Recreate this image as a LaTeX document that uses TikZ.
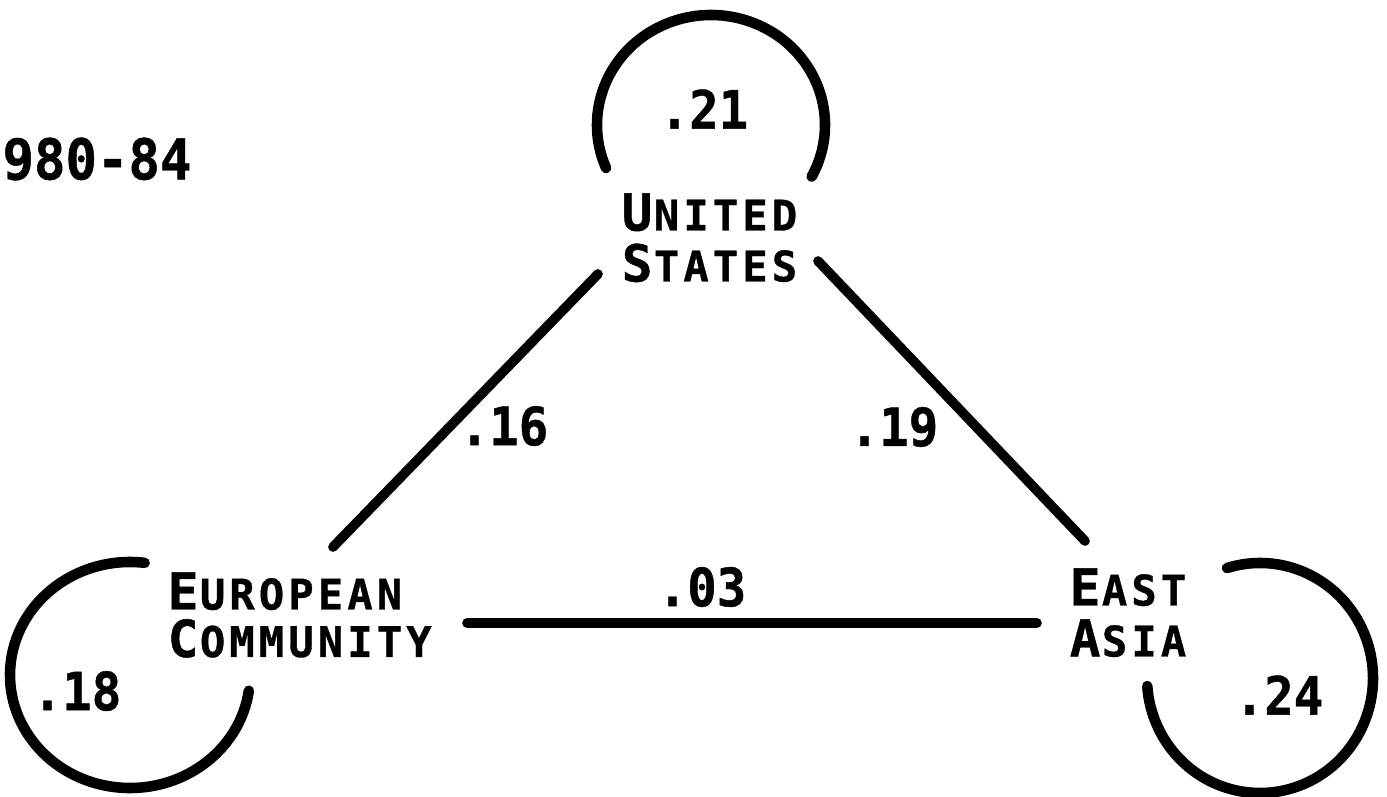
\documentclass[tikz,border=0pt]{standalone}
\usepackage{fontspec}
\newfontfamily\lgb{DejaVu Sans Mono}[FakeStretch=0.93,BoldFeatures={FakeBold=0.8}]
\newfontfamily\lgl{DejaVu Sans Mono}[BoldFeatures={FakeBold=0.8}]
\newcommand\capL[1]{\makebox[0.59cm][c]{\fontsize{29}{31}\selectfont #1}}
\newcommand\smL[1]{\makebox[0.59cm][c]{\fontsize{24}{31}\selectfont #1}}
\begin{document}
\begin{tikzpicture}[x=0.02cm,y=-0.02cm,
  lbl/.style={inner sep=0pt,anchor=north west,align=left,font=\lgl\bfseries\fontsize{29}{31}\selectfont},
  num/.style={inner sep=0pt,anchor=center,font=\lgb\bfseries\fontsize{30}{32}\selectfont},
  link/.style={line width=5.5pt,line cap=round},
  loopline/.style={line width=6pt,line cap=round}]
\useasboundingbox[fill=white] (0,0) rectangle (1387,797);

% labels
\node[lbl] (us) at (622,193) {\capL{U}\smL{N}\smL{I}\smL{T}\smL{E}\smL{D}\\[-2pt]\capL{S}\smL{T}\smL{A}\smL{T}\smL{E}\smL{S}};
\node[lbl,font=\lgl\bfseries\fontsize{29}{29}\selectfont] (ec) at (168,572) {\capL{E}\smL{U}\smL{R}\smL{O}\smL{P}\smL{E}\smL{A}\smL{N}\\[-2pt]\capL{C}\smL{O}\smL{M}\smL{M}\smL{U}\smL{N}\smL{I}\smL{T}\smL{Y}};
\node[lbl] (ea) at (1070,568) {\capL{E}\smL{A}\smL{S}\smL{T}\\[-2pt]\capL{A}\smL{S}\smL{I}\smL{A}};

\node[num,font=\lgb\bfseries\fontsize{32}{34}\selectfont] (yr) at (97,159) {980-84};

% numbers
\node[num] (n21) at (704,109) {.21};
\node[num] (n16) at (504,426) {.16};
\node[num] (n19) at (894,427) {.19};
\node[num] (n03) at (702,587) {.03};
\node[num] (n18) at (77,691) {.18};
\node[num] (n24) at (1279,695) {.24};

% connector end points
\coordinate (usL) at (598,274);
\coordinate (ecT) at (333,547);
\coordinate (usR) at (818,261);
\coordinate (eaT) at (1085,541);
\coordinate (ecR) at (467,623);
\coordinate (eaL) at (1037,623);

\draw[link] (usL) -- (ecT);
\draw[link] (usR) -- (eaT);
\draw[link] (ecR) -- (eaL);

% self loops
\coordinate (usC) at (711,125);
\coordinate (ecC) at (130,675);
\coordinate (eaC) at (1260,678);
\draw[loopline] (usC) ++(157:114 and 110) arc[start angle=157,end angle=388,x radius=114,y radius=110];
\draw[loopline] (ecC) ++(277:120 and 113) arc[start angle=277,end angle=8,x radius=120,y radius=113];
\draw[loopline] (eaC) ++(253:113 and 115) arc[start angle=253,end angle=536,x radius=113,y radius=115];
\end{tikzpicture}
\end{document}
